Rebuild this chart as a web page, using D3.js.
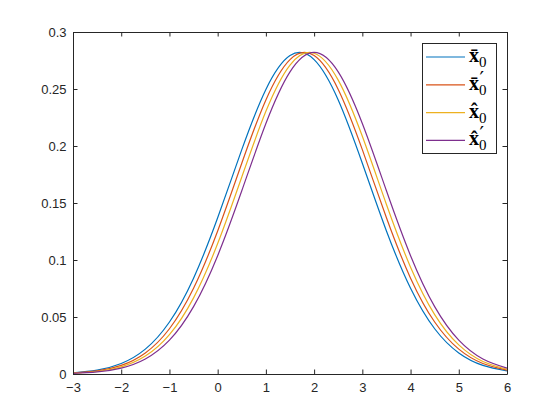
<!DOCTYPE html>
<html>
<head>
<meta charset="utf-8">
<script src="https://cdn.jsdelivr.net/npm/d3@7"></script>
<style>
  body { margin: 0; background: #fff; }
  text { font-family: "Liberation Sans", Arial, sans-serif; }
</style>
</head>
<body>
<script>
const width = 560,
      height = 420

// x grid shared by all four curves
const xs = [-3, -2.5, -2, -1.5, -1, -0.5, 0, 0.5, 1, 1.5, 2, 2.5, 3, 3.5, 4, 4.5, 5, 5.5, 6]

// values
const xBar = [0.0011, 0.0034, 0.0092, 0.0218, 0.0456, 0.0841, 0.1370, 0.1968, 0.2496, 0.2793,
              0.2758, 0.2404, 0.1849, 0.1255, 0.0752, 0.0397, 0.0185, 0.0076, 0.0028]
const xBarPrime = [0.0009, 0.0028, 0.0076, 0.0185, 0.0397, 0.0752, 0.1255, 0.1849, 0.2404, 0.2758,
                   0.2793, 0.2496, 0.1968, 0.1370, 0.0841, 0.0456, 0.0218, 0.0092, 0.0034]
const xHat = [0.0007, 0.0022, 0.0063, 0.0157, 0.0345, 0.0668, 0.1144, 0.1728, 0.2304, 0.2710,
              0.2814, 0.2578, 0.2085, 0.1487, 0.0937, 0.0521, 0.0255, 0.0110, 0.0042]
const xHatPrime = [0.0005, 0.0018, 0.0052, 0.0132, 0.0297, 0.0591, 0.1038, 0.1607, 0.2197, 0.2650,
                   0.2821, 0.2650, 0.2197, 0.1607, 0.1038, 0.0591, 0.0297, 0.0132, 0.0052]

const xTicks = [-3, -2, -1, 0, 1, 2, 3, 4, 5, 6]
const yTicks = [0, 0.05, 0.1, 0.15, 0.2, 0.25, 0.3]

const series = [
    { accent: '\u0304', prime: false, values: xBar, color: '#0072BD' },
    { accent: '\u0304', prime: true, values: xBarPrime, color: '#D95319' },
    { accent: '\u0302', prime: false, values: xHat, color: '#EDB120' },
    { accent: '\u0302', prime: true, values: xHatPrime, color: '#7E2F8E' }
]

const margin = { left: 73, right: 53, top: 32, bottom: 46 }
const axisColor = '#262626'

const svg = d3.select('body').append('svg')
    .attr('width', width)
    .attr('height', height)

const x = d3.scaleLinear().domain([-3, 6]).range([margin.left, width - margin.right])
const y = d3.scaleLinear().domain([0, 0.3]).range([height - margin.bottom, margin.top])

// curves
const line = d3.line()
    .x((d, i) => x(xs[i]))
    .y(d => y(d))
    .curve(d3.curveNatural)

const plot = svg.append('g')
series.forEach(s => {
    plot.append('path')
        .attr('d', line(s.values))
        .attr('fill', 'none')
        .attr('stroke', s.color)
        .attr('stroke-width', 1.2)
})

// axes, ticks inside, box on
const tickLen = 4.5
const axes = [
    { gen: d3.axisBottom(x).tickValues(xTicks).tickFormat(d3.format('d')), pos: height - margin.bottom, dir: 'x', labels: true, pad: 9 },
    { gen: d3.axisTop(x).tickValues(xTicks), pos: margin.top, dir: 'x', labels: false, pad: 8 },
    { gen: d3.axisLeft(y).tickValues(yTicks).tickFormat(d => d === 0 ? '0' : String(+d.toFixed(2))), pos: margin.left, dir: 'y', labels: true, pad: 6.5 },
    { gen: d3.axisRight(y).tickValues(yTicks), pos: width - margin.right, dir: 'y', labels: false, pad: 8 }
]

axes.forEach(a => {
    const g = svg.append('g')
        .attr('transform', a.dir === 'x' ? `translate(0,${a.pos})` : `translate(${a.pos},0)`)
        .call(a.gen.tickSizeInner(-tickLen).tickSizeOuter(0).tickPadding(a.pad))
    g.select('.domain').attr('stroke', axisColor).attr('stroke-width', 1)
    g.selectAll('.tick line').attr('stroke', axisColor).attr('stroke-width', 1)
    g.selectAll('.tick text')
        .attr('fill', axisColor)
        .style('font-size', '13px')
        .style('font-family', '"Liberation Sans", Arial, sans-serif')
    if (!a.labels) g.selectAll('.tick text').remove()
})

// legend
const lg = svg.append('g')
lg.append('rect')
    .attr('x', 422.5).attr('y', 43.5)
    .attr('width', 74).attr('height', 110)
    .attr('fill', '#fff')
    .attr('stroke', axisColor)
    .attr('stroke-width', 1)

series.forEach((s, i) => {
    const cy = 57 + i * 27.8
    lg.append('line')
        .attr('x1', 426).attr('x2', 465)
        .attr('y1', cy).attr('y2', cy)
        .attr('stroke', s.color)
        .attr('stroke-width', 1.2)
    const t = lg.append('text')
        .attr('x', 469).attr('y', cy + 5)
        .style('font-family', '"Liberation Serif", "DejaVu Serif", serif')
        .style('font-size', '20px')
        .attr('fill', '#000')
    t.append('tspan').attr('font-weight', 'bold').text('x' + s.accent)
    t.append('tspan').attr('dy', 5).style('font-size', '15px').text('0')
    if (s.prime) {
        // prime above the subscript
        lg.append('text')
            .attr('x', 479.5).attr('y', cy + 1)
            .style('font-family', '"DejaVu Serif", serif')
            .style('font-size', '20px')
            .attr('fill', '#000')
            .text('\u2032')
    }
})
</script>
</body>
</html>
